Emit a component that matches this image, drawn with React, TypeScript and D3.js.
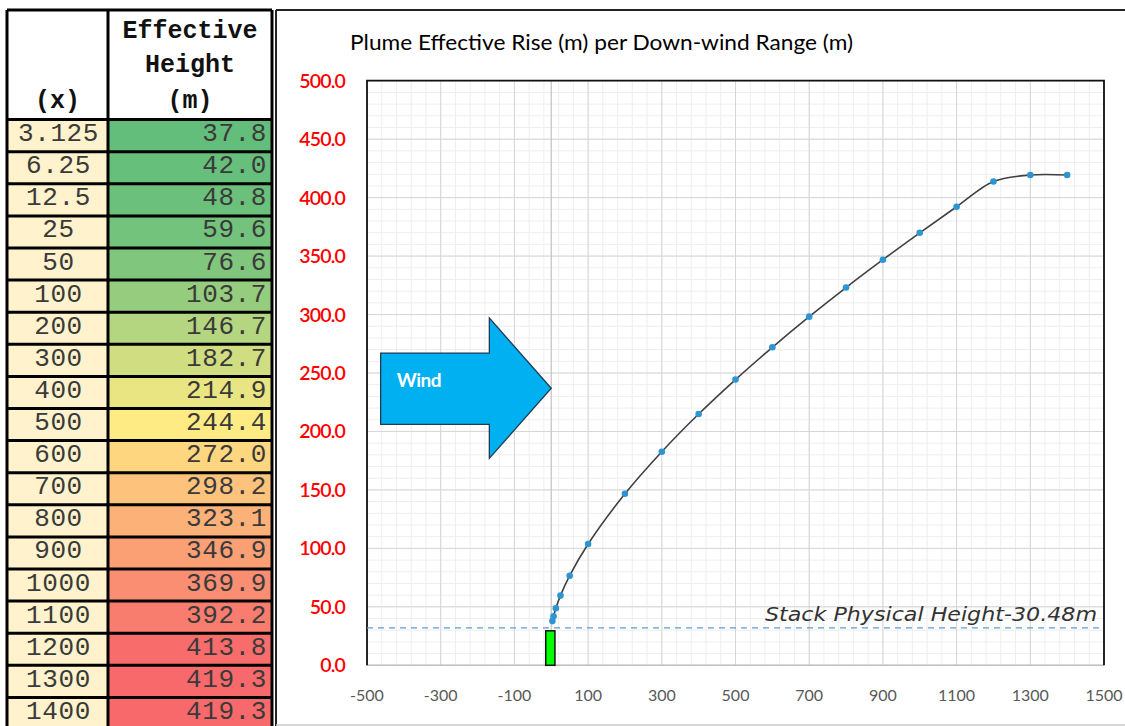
import React from "react";
import * as d3 from "d3";

// ---------------- data ----------------
const DIST_LABELS = ["3.125", "6.25", "12.5", "25", "50", "100", "200", "300", "400", "500", "600", "700", "800", "900", "1000", "1100", "1200", "1300", "1400"];
const DISTANCES = [3.125, 6.25, 12.5, 25, 50, 100, 200, 300, 400, 500, 600, 700, 800, 900, 1000, 1100, 1200, 1300, 1400];
const HEIGHTS = [37.8, 42.0, 48.8, 59.6, 76.6, 103.7, 146.7, 182.7, 214.9, 244.4, 272.0, 298.2, 323.1, 346.9, 369.9, 392.2, 413.8, 419.3, 419.3];
const X_TICKS = [-500, -300, -100, 100, 300, 500, 700, 900, 1100, 1300, 1500];
const Y_TICKS = [0, 50, 100, 150, 200, 250, 300, 350, 400, 450, 500];
const STACK_HEIGHT_LABEL = "Stack Physical Height-30.48m";
const STACK_LINE = 32;
const STACK_BAR = { x0: -15, x1: 10, y: 29.5 };
const TITLE = "Plume Effective Rise (m) per Down-wind Range (m)";

// ---------------- layout ----------------
const W = 1125, H = 726;
const PL = 367, PR = 1104, PT = 80.7, PB = 665.3;
const TAB = { x0: 7, xd: 108, x1: 272, y0: 10, hb: 119.6, rowH: 32.1 };

export default function App() {
  const x = d3.scaleLinear().domain([-500, 1500]).range([PL, PR]);
  const y = d3.scaleLinear().domain([0, 500]).range([PB, PT]);
  const xMinor = d3.range(-500, 1501, 40);
  const yMinor = d3.range(0, 501, 10);

  const sorted = [...HEIGHTS].sort((a, b) => a - b);
  const color = d3
    .scaleLinear<string>()
    .domain([d3.min(HEIGHTS)!, d3.quantile(sorted, 0.5)!, d3.max(HEIGHTS)!])
    .range(["#63BE7B", "#FFEB84", "#F8696B"])
    .interpolate(d3.interpolateRgb);

  const pts = DISTANCES.map((d, i) => [x(d), y(HEIGHTS[i])] as [number, number]);
  const line = d3.line().curve(d3.curveCatmullRom.alpha(0.5))(pts) || "";

  // wind arrow in data coordinates
  const arrow: [number, number][] = [
    [-463, 267], [-168, 267], [-168, 297], [0, 237], [-168, 177], [-168, 206], [-463, 206],
  ];
  const arrowPath = "M" + arrow.map(([a, b]) => `${x(a)},${y(b)}`).join("L") + "Z";

  const mono = "'Liberation Mono', 'Courier New', monospace";
  const sans = "Lato, 'Open Sans', sans-serif";

  return (
    <svg width={W} height={H} style={{ position: "fixed", left: 0, top: 0, background: "#fff" }}>
      {/* ---------- table ---------- */}
      <rect x={TAB.x0} y={TAB.y0} width={TAB.x1 - TAB.x0} height={TAB.hb - TAB.y0} fill="#fff" />
      {DIST_LABELS.map((lab, i) => {
        const top = TAB.hb + i * TAB.rowH;
        return (
          <g key={lab}>
            <rect x={TAB.x0} y={top} width={TAB.xd - TAB.x0} height={TAB.rowH} fill="#FFF2CC" />
            <rect x={TAB.xd} y={top} width={TAB.x1 - TAB.xd} height={TAB.rowH} fill={color(HEIGHTS[i])} />
            <text x={(TAB.x0 + TAB.xd) / 2 + 1} y={top + 21.5} textAnchor="middle" fontFamily={mono} fontSize={26} fill="#3a3a3a" letterSpacing={0.6}>
              {lab}
            </text>
            <text x={TAB.x1 - 5} y={top + 21.5} textAnchor="end" fontFamily={mono} fontSize={26} fill="#3a3a3a" letterSpacing={0.6}>
              {d3.format(".1f")(HEIGHTS[i])}
            </text>
          </g>
        );
      })}
      {DIST_LABELS.map((lab, i) => (
        <line key={"rl" + lab} x1={TAB.x0} x2={TAB.x1} y1={TAB.hb + i * TAB.rowH} y2={TAB.hb + i * TAB.rowH} stroke="#000" strokeWidth={3} />
      ))}
      <line x1={TAB.x0} x2={TAB.x1} y1={TAB.y0} y2={TAB.y0} stroke="#000" strokeWidth={3} />
      <line x1={TAB.x0} x2={TAB.x0} y1={TAB.y0} y2={H} stroke="#000" strokeWidth={3} />
      <line x1={TAB.xd} x2={TAB.xd} y1={TAB.y0} y2={H} stroke="#000" strokeWidth={3} />
      <line x1={TAB.x1} x2={TAB.x1} y1={TAB.y0} y2={H} stroke="#000" strokeWidth={3} />
      <g fontFamily={mono} fontWeight="bold" fontSize={25} fill="#111" textAnchor="middle">
        <text x={(TAB.xd + TAB.x1) / 2} y={38}>Effective</text>
        <text x={(TAB.xd + TAB.x1) / 2} y={72}>Height</text>
        <text x={(TAB.xd + TAB.x1) / 2} y={108}>(m)</text>
        <text x={(TAB.x0 + TAB.xd) / 2} y={108}>(x)</text>
      </g>

      {/* ---------- chart frame ---------- */}
      <line x1={276} x2={W} y1={10} y2={10} stroke="#222" strokeWidth={2} />
      <line x1={276} x2={276} y1={10} y2={H} stroke="#222" strokeWidth={2} />
      <line x1={276} x2={W} y1={725} y2={725} stroke="#c8c8c8" strokeWidth={1.5} />

      <text x={350} y={50} fontFamily={sans} fontSize={21} fill="#000" textLength={503} lengthAdjust="spacingAndGlyphs">
        {TITLE}
      </text>

      {/* grid */}
      <g>
        {xMinor.map((v) => (
          <line key={"xm" + v} x1={x(v)} x2={x(v)} y1={PT} y2={PB} stroke="#eeeeee" strokeWidth={1} />
        ))}
        {yMinor.map((v) => (
          <line key={"ym" + v} x1={PL} x2={PR} y1={y(v)} y2={y(v)} stroke="#eeeeee" strokeWidth={1} />
        ))}
        {X_TICKS.map((v) => (
          <line key={"xM" + v} x1={x(v)} x2={x(v)} y1={PT} y2={PB} stroke="#d6d6d6" strokeWidth={1} />
        ))}
        {Y_TICKS.map((v) => (
          <line key={"yM" + v} x1={PL} x2={PR} y1={y(v)} y2={y(v)} stroke="#d6d6d6" strokeWidth={1} />
        ))}
      </g>
      {/* vertical axis line at x = 0 */}
      <line x1={x(0)} x2={x(0)} y1={PT} y2={PB} stroke="#c6c6c6" strokeWidth={1.3} />
      {/* plot border */}
      <line x1={PL} x2={PR} y1={PB} y2={PB} stroke="#bfbfbf" strokeWidth={1.5} />
      <path d={`M${PL},${PB}V${PT}H${PR}V${PB}`} fill="none" stroke="#111" strokeWidth={1.8} />

      {/* y tick labels */}
      {Y_TICKS.map((v) => (
        <text key={"yl" + v} x={345} y={y(v) + 7} textAnchor="end" fontFamily={sans} fontSize={19.5} fontWeight={600} fill="#FF0000" letterSpacing={-0.8}>
          {d3.format(".1f")(v)}
        </text>
      ))}
      {/* x tick labels */}
      {X_TICKS.map((v) => (
        <text key={"xl" + v} x={x(v)} y={701} textAnchor="middle" fontFamily={sans} fontSize={16} fill="#595959">
          {v}
        </text>
      ))}

      {/* stack */}
      <line x1={PL} x2={PR} y1={y(STACK_LINE)} y2={y(STACK_LINE)} stroke="#5B9BD5" strokeWidth={1.3} strokeDasharray="6,5" />
      <rect
        x={x(STACK_BAR.x0)}
        y={y(STACK_BAR.y)}
        width={x(STACK_BAR.x1) - x(STACK_BAR.x0)}
        height={y(0) - y(STACK_BAR.y)}
        fill="#00FF00"
        stroke="#111"
        strokeWidth={1.5}
      />
      <text x={1097} y={621} textAnchor="end" fontFamily="'DejaVu Sans', sans-serif" fontStyle="italic" fontSize={19} fill="#333" textLength={332} lengthAdjust="spacingAndGlyphs">
        {STACK_HEIGHT_LABEL}
      </text>

      {/* wind arrow */}
      <path d={arrowPath} fill="#00B0F0" stroke="#1F3B57" strokeWidth={1.3} />
      <text x={x(-419)} y={y(244) + 7} fontFamily={sans} fontSize={19} fontWeight="bold" fill="#fff" letterSpacing={-0.5}>
        Wind
      </text>

      {/* series */}
      <path d={line} fill="none" stroke="#404040" strokeWidth={1.6} />
      {pts.map(([px, py], i) => (
        <circle key={"p" + i} cx={px} cy={py} r={3.3} fill="#2E95D3" />
      ))}
    </svg>
  );
}
